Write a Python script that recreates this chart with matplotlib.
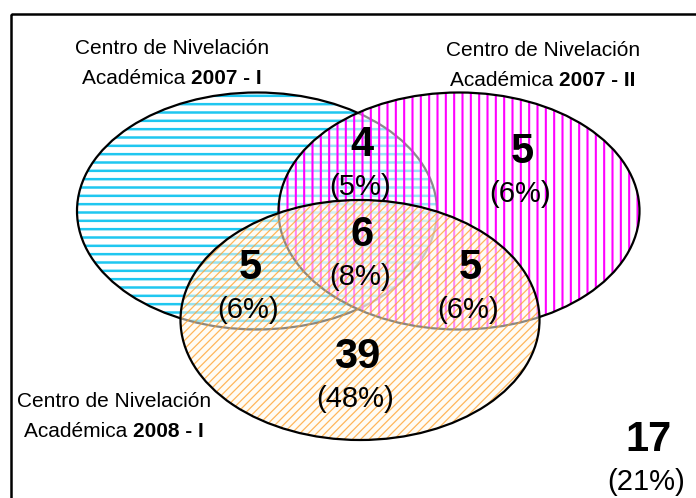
import matplotlib.pyplot as plt
from matplotlib.patches import Ellipse, Rectangle

# sets: name, bold part
set_names = ["Centro de Nivelación\nAcadémica ", "Centro de Nivelación\nAcadémica ", "Centro de Nivelación\nAcadémica "]
set_terms = ["2007 - I", "2007 - II", "2008 - I"]
set_colors = [(0.12, 0.78, 0.94, 1.0), (1.0, 0.0, 1.0, 1.0), (1.0, 0.62, 0.15, 0.75)]
set_hatches = ["--", "||", "////"]
hatch_widths = [1.8, 1.5, 0.9]

# region counts: I&II, II only, all, I&2008, II&2008, 2008 only, none
counts = [4, 5, 6, 5, 5, 39, 17]
percents = ["(5%)", "(6%)", "(8%)", "(6%)", "(6%)", "(48%)", "(21%)"]

W, H = 696, 498
fig = plt.figure(figsize=(W / 100, H / 100), dpi=100)
ax = fig.add_axes([0, 0, 1, 1])
ax.set_xlim(0, W)
ax.set_ylim(H, 0)
ax.axis("off")

# frame (right/bottom edges fall outside the picture)
ax.add_patch(Rectangle((11, 14), 720, 520, fill=False, ec="black", lw=1.8, zorder=1))

# ellipse geometry in pixel units: centre x, centre y, width, height
ell = [(257, 211, 360, 237), (459, 211, 361, 237), (360, 320, 359, 240)]
fills = [(1, 1, 1, 0.0), (1, 1, 1, 0.55), (1, 0.98, 0.93, 0.55)]

for i, (cx, cy, w, h) in enumerate(ell):
    z = 2 + i * 2
    plt.rcParams["hatch.linewidth"] = hatch_widths[i]
    p = Ellipse((cx, cy), w, h, facecolor=fills[i], edgecolor=set_colors[i],
                hatch=set_hatches[i], lw=0, zorder=z)
    ax.add_patch(p)
    ax.add_patch(Ellipse((cx, cy), w, h, fill=False, edgecolor="black", lw=1.6, zorder=z + 1))

# region labels
num_pos = [(362, 145), (522, 152), (362, 235), (250, 268), (470, 268), (357, 357), (648, 440)]
for (x, y), c, p in zip(num_pos, counts, percents):
    ax.text(x, y, str(c), ha="center", va="center", fontsize=30, fontweight="bold",
            family="Liberation Sans", zorder=10)
    ax.text(x - 2, y + 42, p, ha="center", va="center", fontsize=21,
            family="Liberation Sans", zorder=10)

# set labels with bold year part
renderer = fig.canvas.get_renderer()


def set_label(cx, y, name, term):
    line1, line2 = name.split("\n")
    ax.text(cx, y, line1, ha="center", va="center", fontsize=15, family="Liberation Sans", zorder=10)
    t1 = ax.text(0, y + 30, line2, ha="left", va="center", fontsize=15,
                 family="Liberation Sans", zorder=10)
    t2 = ax.text(0, y + 30, term, ha="left", va="center", fontsize=15,
                 family="Liberation Sans", fontweight="bold", zorder=10)
    w1 = t1.get_window_extent(renderer).width
    w2 = t2.get_window_extent(renderer).width
    x0 = cx - (w1 + w2) / 2
    t1.set_x(x0)
    t2.set_x(x0 + w1)


label_pos = [(172, 48), (543, 50), (114, 401)]
for (x, y), n, t in zip(label_pos, set_names, set_terms):
    set_label(x, y, n, t)

fig.savefig("out.png", dpi=100)
